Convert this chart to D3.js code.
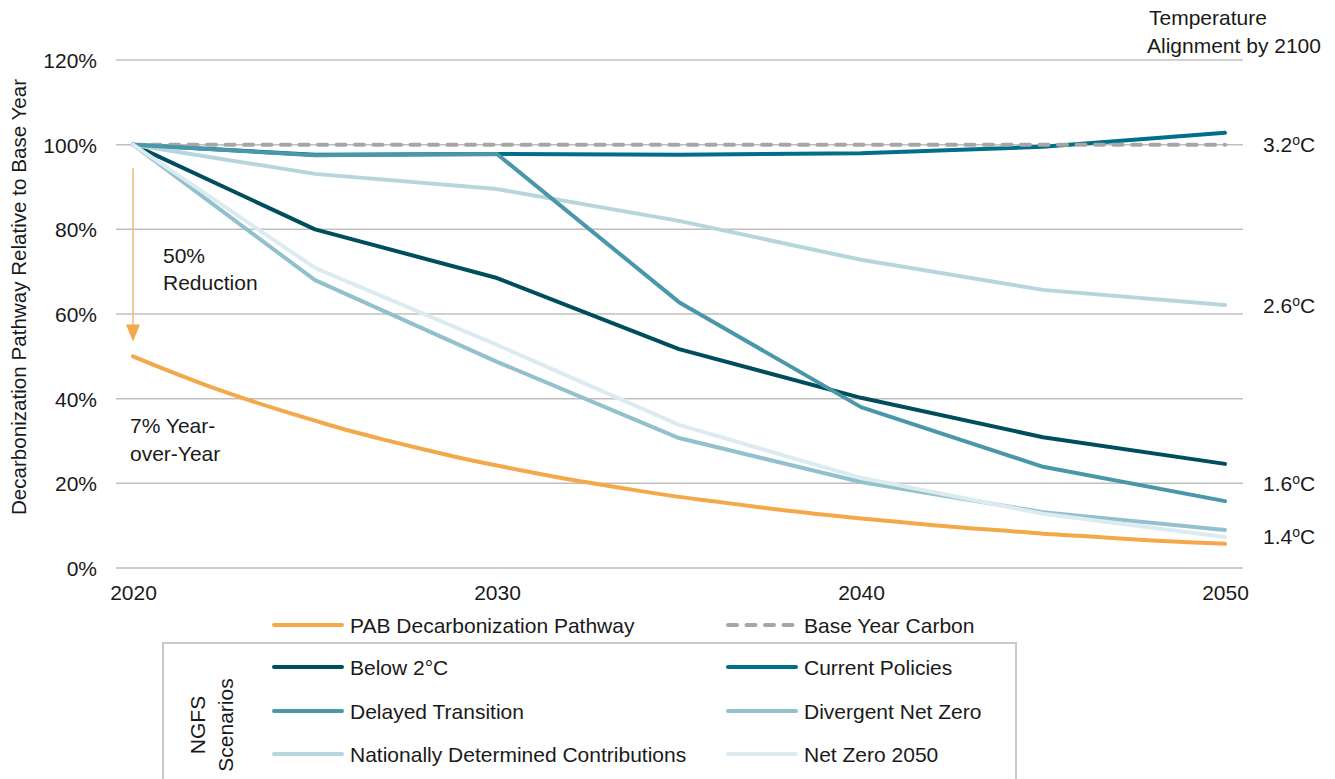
<!DOCTYPE html>
<html>
<head>
<meta charset="utf-8">
<script src="https://cdn.jsdelivr.net/npm/d3@7"></script>
<style>
  html, body { margin: 0; padding: 0; background: #fff; }
  svg { display: block; font-family: "Liberation Sans", Arial, sans-serif; }
</style>
</head>
<body>
<svg id="chart" width="1335" height="779"></svg>
<script>
// Scenario years (5-year steps) and pathway values, % of base-year emissions
const years = [2020, 2025, 2030, 2035, 2040, 2045, 2050];
const below2C = [100, 80.0, 68.5, 51.7, 40.2, 30.9, 24.6];
const currentPolicies = [100, 97.6, 97.8, 97.6, 98.0, 99.5, 102.8];
const delayedTransition = [100, 97.5, 97.8, 62.8, 38.0, 23.9, 15.8];
const divergentNetZero = [100, 68.0, 48.7, 30.7, 20.3, 13.2, 9.0];
const ndc = [100, 93.1, 89.5, 82.0, 72.8, 65.7, 62.1];
const netZero2050 = [100, 70.9, 52.7, 33.8, 21.3, 12.8, 7.3];
const baseYearCarbon = [100, 100, 100, 100, 100, 100, 100];

// PAB pathway, annual steps
const pabYears = d3.range(2020, 2051);
const pabValues = [50.0, 46.5, 43.2, 40.2, 37.4, 34.8, 32.3, 30.1, 28.0, 26.0,
  24.2, 22.5, 20.9, 19.5, 18.1, 16.8, 15.7, 14.6, 13.5, 12.6,
  11.7, 10.9, 10.1, 9.4, 8.8, 8.1, 7.6, 7.0, 6.5, 6.1, 5.7];

const yTicks = [0, 20, 40, 60, 80, 100, 120];
const xTicks = [2020, 2030, 2040, 2050];

// Temperature alignment labels at the right edge
const tempLabels = [
  { text: "3.2", value: 100 },
  { text: "2.6", value: 62 },
  { text: "1.6", value: 20 },
  { text: "1.4", value: 7.5 }
];

const colors = {
  pab: "#f3a84a",
  base: "#a6a6a6",
  below2C: "#004d5e",
  current: "#006f8a",
  delayed: "#4a97aa",
  divergent: "#92c1cd",
  ndc: "#b6d6de",
  nz: "#dcebef"
};

const FS = 21;
const ink = "#1a1a1a";
const fontFamily = "Liberation Sans, Arial, sans-serif";

const svg = d3.select("#chart");
const x = d3.scaleLinear().domain([2020, 2050]).range([133, 1225]);
const y = d3.scaleLinear().domain([0, 120]).range([568, 60]);
const gridX0 = 116, gridX1 = 1243;

// Gridlines
svg.append("g").selectAll("line").data(yTicks).join("line")
  .attr("x1", gridX0).attr("x2", gridX1)
  .attr("y1", d => y(d)).attr("y2", d => y(d))
  .attr("stroke", "#bfbfbf").attr("stroke-width", 1.5);

// Y axis labels
const yAxis = d3.axisLeft(y).tickValues(yTicks).tickFormat(d => d + "%").tickSize(0).tickPadding(0);
const gy = svg.append("g").attr("transform", "translate(97,0)").call(yAxis);
gy.select(".domain").remove();
gy.selectAll("text").attr("font-size", FS).attr("fill", ink)
  .attr("font-family", fontFamily).attr("dy", "0.36em");

// X axis labels
const xAxis = d3.axisBottom(x).tickValues(xTicks).tickFormat(d3.format("d")).tickSize(0).tickPadding(0);
const gx = svg.append("g").attr("transform", "translate(0,600)").call(xAxis);
gx.select(".domain").remove();
gx.selectAll("text").attr("font-size", FS).attr("fill", ink)
  .attr("font-family", fontFamily).attr("y", 0).attr("dy", 0);

// Y axis title
svg.append("text")
  .attr("transform", "translate(26,297) rotate(-90)")
  .attr("text-anchor", "middle")
  .attr("font-size", 20.6).attr("fill", ink)
  .text("Decarbonization Pathway Relative to Base Year");

const line = d3.line().x(d => x(d[0])).y(d => y(d[1]));
const lineCurve = d3.line().x(d => x(d[0])).y(d => y(d[1])).curve(d3.curveMonotoneX);

function drawSeries(vals, color, dash) {
  const p = svg.append("path")
    .datum(years.map((yr, i) => [yr, vals[i]]))
    .attr("d", line)
    .attr("fill", "none").attr("stroke", color).attr("stroke-width", 4)
    .attr("stroke-linejoin", "round").attr("stroke-linecap", "round");
  if (dash) p.attr("stroke-dasharray", dash);
  return p;
}

drawSeries(currentPolicies, colors.current);
drawSeries(baseYearCarbon, colors.base, "9,9.5");
drawSeries(below2C, colors.below2C);
drawSeries(ndc, colors.ndc);
drawSeries(delayedTransition, colors.delayed);
drawSeries(divergentNetZero, colors.divergent);
drawSeries(netZero2050, colors.nz);

svg.append("path")
  .datum(pabYears.map((yr, i) => [yr, pabValues[i]]))
  .attr("d", lineCurve)
  .attr("fill", "none").attr("stroke", colors.pab).attr("stroke-width", 4)
  .attr("stroke-linecap", "round");

// 50% reduction arrow
const ax = x(2020);
svg.append("line")
  .attr("x1", ax).attr("x2", ax).attr("y1", y(94.5)).attr("y2", y(57))
  .attr("stroke", "#f5b976").attr("stroke-width", 1.5);
svg.append("path")
  .attr("d", `M${ax - 7},${y(57.5)} L${ax + 7},${y(57.5)} L${ax},${y(53.5)} Z`)
  .attr("fill", colors.pab);

const annot = svg.append("g").attr("font-size", FS).attr("fill", ink);
annot.append("text").attr("x", 163).attr("y", 263).text("50%");
annot.append("text").attr("x", 163).attr("y", 290).text("Reduction");
annot.append("text").attr("x", 130).attr("y", 433).text("7% Year-");
annot.append("text").attr("x", 130).attr("y", 461).text("over-Year");

// Temperature alignment header and labels
const hdr = svg.append("g").attr("font-size", FS).attr("fill", ink);
hdr.append("text").attr("x", 1149).attr("y", 25).text("Temperature");
hdr.append("text").attr("x", 1147).attr("y", 53).text("Alignment by 2100");

const tl = svg.append("g").attr("font-size", FS).attr("fill", ink);
tempLabels.forEach(d => {
  const t = tl.append("text").attr("x", 1263).attr("y", y(d.value) + 7.5);
  t.append("tspan").text(d.text);
  t.append("tspan").attr("font-size", 14).attr("dy", -7).text("o");
  t.append("tspan").attr("dy", 7).text("C");
});

// Legend
const legendTop = [
  { label: "PAB Decarbonization Pathway", color: colors.pab, col: 0 },
  { label: "Base Year Carbon", color: colors.base, col: 1, dash: "9,9.5" }
];
const legendRows = [
  [{ label: "Below 2°C", color: colors.below2C }, { label: "Current Policies", color: colors.current }],
  [{ label: "Delayed Transition", color: colors.delayed }, { label: "Divergent Net Zero", color: colors.divergent }],
  [{ label: "Nationally Determined Contributions", color: colors.ndc }, { label: "Net Zero 2050", color: colors.nz }]
];
const colLine = [[274, 342], [728, 796]];
const colText = [350, 804];

const lg = svg.append("g");
function legendItem(col, yy, item) {
  const l = lg.append("line")
    .attr("x1", colLine[col][0]).attr("x2", colLine[col][1])
    .attr("y1", yy).attr("y2", yy)
    .attr("stroke", item.color).attr("stroke-width", 4).attr("stroke-linecap", "round");
  if (item.dash) l.attr("stroke-dasharray", item.dash);
  lg.append("text").attr("x", colText[col]).attr("y", yy + 7.5)
    .attr("font-size", FS).attr("fill", ink).text(item.label);
}
legendTop.forEach(d => legendItem(d.col, 625, d));
const rowY = [667, 711, 754];
legendRows.forEach((row, r) => row.forEach((item, c) => legendItem(c, rowY[r], item)));

// Scenario group box (open at the bottom)
lg.append("path")
  .attr("d", "M163,785 L163,643 L1016,643 L1016,785")
  .attr("fill", "none").attr("stroke", "#c8c8c8").attr("stroke-width", 2);

const ng = lg.append("text")
  .attr("transform", "translate(0,725) rotate(-90)")
  .attr("text-anchor", "middle").attr("font-size", FS).attr("fill", ink);
ng.append("tspan").attr("x", 0).attr("y", 205).text("NGFS");
ng.append("tspan").attr("x", 0).attr("y", 233).text("Scenarios");
</script>
</body>
</html>
